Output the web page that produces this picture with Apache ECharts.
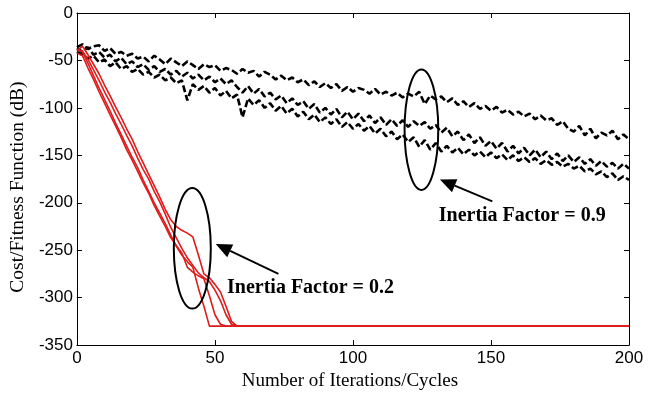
<!DOCTYPE html>
<html>
<head>
<meta charset="utf-8">
<script src="https://cdn.jsdelivr.net/npm/echarts@6/dist/echarts.min.js"></script>
<style>
  html, body { margin: 0; padding: 0; background: #fff; }
  #chart { width: 653px; height: 396px; }
</style>
</head>
<body>
<div id="chart"></div>
<script>
// Iteration index shared by the three slow (w = 0.9) runs
const iters = [
  0, 2, 4, 6, 8, 10, 12, 14, 16, 18, 20, 22, 24, 26, 28, 30, 32, 34, 36, 38,
  40, 42, 44, 46, 48, 50, 52, 54, 56, 58, 60, 62, 64, 66, 68, 70, 72, 74, 76, 78,
  80, 82, 84, 86, 88, 90, 92, 94, 96, 98, 100, 102, 104, 106, 108, 110, 112, 114, 116, 118,
  120, 122, 124, 126, 128, 130, 132, 134, 136, 138, 140, 142, 144, 146, 148, 150, 152, 154, 156, 158,
  160, 162, 164, 166, 168, 170, 172, 174, 176, 178, 180, 182, 184, 186, 188, 190, 192, 194, 196, 198,
  200
];

// Inertia factor 0.9 runs (cost in dB)
const slowRun1 = [
  -36, -33, -38, -35, -34, -40, -37, -43, -41, -45,
  -43, -48, -46, -51, -45, -49, -54, -48, -52, -56,
  -51, -55, -59, -54, -57, -55, -61, -58, -60, -64,
  -59, -63, -61, -67, -62, -65, -70, -66, -71, -68,
  -73, -70, -76, -72, -78, -74, -79, -75, -82, -78,
  -83, -79, -81, -85, -80, -86, -83, -87, -84, -89,
  -85, -88, -83, -96, -87, -91, -88, -94, -90, -97,
  -93, -99, -95, -101, -98, -103, -99, -105, -102, -107,
  -104, -109, -106, -112, -108, -113, -111, -118, -114, -122,
  -125, -119, -129, -122, -132, -126, -129, -124, -133, -128,
  -133
];
const slowRun2 = [
  -37, -41, -36, -44, -41, -47, -44, -51, -47, -54,
  -51, -57, -54, -60, -56, -62, -59, -65, -61, -67,
  -63, -69, -65, -71, -67, -73, -69, -75, -71, -78,
  -84, -77, -85, -80, -88, -84, -91, -87, -95, -90,
  -97, -93, -101, -96, -105, -100, -107, -101, -110, -104,
  -112, -106, -114, -108, -116, -110, -118, -112, -119, -113,
  -120, -114, -119, -115, -122, -118, -126, -121, -130, -125,
  -134, -128, -137, -131, -140, -135, -143, -137, -146, -140,
  -148, -142, -150, -144, -152, -146, -154, -148, -156, -150,
  -157, -152, -159, -154, -161, -156, -162, -158, -164, -159,
  -164
];
const slowRun3 = [
  -41, -44, -48, -45, -52, -49, -56, -52, -59, -56,
  -62, -59, -65, -62, -68, -65, -71, -68, -74, -71,
  -92, -75, -81, -77, -84, -79, -87, -82, -90, -86,
  -110, -90, -97, -92, -100, -95, -103, -98, -106, -101,
  -109, -104, -112, -107, -115, -110, -117, -112, -120, -115,
  -122, -117, -124, -119, -127, -122, -130, -125, -133, -128,
  -136, -131, -141, -134, -144, -137, -146, -140, -147, -142,
  -149, -144, -150, -146, -152, -147, -153, -149, -155, -150,
  -156, -152, -157, -153, -159, -155, -160, -157, -162, -159,
  -164, -161, -167, -164, -170, -167, -173, -169, -176, -172,
  -176
];

// Iteration index for the fast (w = 0.2) runs; flat after convergence
const fastIters = [
  0, 2, 4, 6, 8, 10, 12, 14, 16, 18, 20, 22, 24, 26, 28, 30, 32, 34, 36, 38,
  40, 42, 44, 46, 48, 50, 52, 54, 56, 58, 60, 62, 200
];
const fastRun1 = [
  -40, -35, -44, -54, -64, -76, -87, -99, -110, -122, -133, -146, -158, -170, -182, -194,
  -207, -218, -225, -229, -232, -236, -255, -275, -279, -286, -294, -309, -325, -330, -330, -330, -330
];
const fastRun2 = [
  -38, -41, -53, -66, -79, -91, -103, -116, -128, -140, -152, -163, -176, -188, -200, -211,
  -222, -234, -246, -255, -262, -268, -290, -309, -330, -330, -330, -330, -330, -330, -330, -330, -330
];
const fastRun3 = [
  -42, -45, -58, -70, -83, -95, -107, -119, -131, -144, -155, -167, -179, -190, -203, -214,
  -225, -237, -245, -253, -268, -273, -277, -280, -298, -318, -328, -330, -330, -330, -330, -330, -330
];
const fastRun4 = [
  -39, -40, -49, -60, -71, -83, -94, -106, -117, -129, -140, -153, -165, -175, -188, -199,
  -212, -226, -237, -248, -258, -266, -274, -279, -283, -292, -303, -318, -328, -330, -330, -330, -330
];

const slowRuns = [slowRun1, slowRun2, slowRun3];
const fastRuns = [fastRun1, fastRun2, fastRun3, fastRun4];

const xTitle = 'Number of Iterations/Cycles';
const yTitle = 'Cost/Fitness Function (dB)';
const labelSlow = 'Inertia Factor = 0.9';
const labelFast = 'Inertia Factor = 0.2';

function pairs(xs, ys) { return xs.map((x, i) => [x, ys[i]]); }

const chart = echarts.init(document.getElementById('chart'), null, { renderer: 'canvas' });

// Boxed axes with inward ticks on all four sides
const axisLineStyle = { onZero: false, lineStyle: { color: '#000', width: 1 } };
const tickStyle = { show: true, inside: true, length: 5, lineStyle: { color: '#000', width: 1 } };
const tickFont = { color: '#000', fontFamily: '"Liberation Sans", Arial, sans-serif', fontSize: 17 };
const serif = '"Liberation Serif", "Times New Roman", serif';

const series = [];
slowRuns.forEach((run) => {
  series.push({
    type: 'line', data: pairs(iters, run), symbol: 'none', z: 2,
    lineStyle: { color: '#000', width: 2.6, type: [7, 3] }
  });
});
fastRuns.forEach((run) => {
  series.push({
    type: 'line', data: pairs(fastIters, run), symbol: 'none', z: 3,
    lineStyle: { color: '#dd1c1c', width: 1.6 }
  });
});

chart.setOption({
  animation: false,
  backgroundColor: '#fff',
  grid: { left: 76, right: 24, top: 13, bottom: 47, containLabel: false },
  xAxis: [
    {
      type: 'value', min: 0, max: 200, interval: 50, position: 'bottom',
      axisLine: axisLineStyle, axisTick: tickStyle, splitLine: { show: false },
      axisLabel: Object.assign({ margin: 5 }, tickFont),
      name: xTitle, nameLocation: 'middle', nameGap: 24,
      nameTextStyle: { color: '#000', fontFamily: serif, fontSize: 19, padding: [0, 6, 0, 0] }
    },
    {
      type: 'value', min: 0, max: 200, interval: 50, position: 'top',
      axisLine: axisLineStyle, axisTick: tickStyle, splitLine: { show: false },
      axisLabel: { show: false }
    }
  ],
  yAxis: [
    {
      type: 'value', min: -350, max: 0, interval: 50, position: 'left',
      axisLine: axisLineStyle, axisTick: tickStyle, splitLine: { show: false },
      axisLabel: Object.assign({ margin: 4 }, tickFont),
      name: yTitle, nameLocation: 'middle', nameRotate: 90, nameGap: 43,
      nameTextStyle: { color: '#000', fontFamily: serif, fontSize: 19.5, padding: [0, 16, 0, 0] }
    },
    {
      type: 'value', min: -350, max: 0, interval: 50, position: 'right',
      axisLine: axisLineStyle, axisTick: tickStyle, splitLine: { show: false },
      axisLabel: { show: false }
    }
  ],
  series: series
});

// Annotation callouts, placed in data coordinates
const callouts = [
  { cx: 124.8, cy: -123, rx: 6.1, ry: 63.5, tip: [131.5, -175.5], tail: [150.5, -198.5], text: labelSlow, at: [161.3, -213.5] },
  { cx: 41.8, cy: -248, rx: 6.7, ry: 63.5, tip: [50.3, -243.5], tail: [73.0, -275], text: labelFast, at: [84.6, -289.6] }
];

function px(p) { return chart.convertToPixel({ xAxisIndex: 0, yAxisIndex: 0 }, p); }

const graphics = [];
callouts.forEach((c) => {
  const ctr = px([c.cx, c.cy]);
  const edge = px([c.cx + c.rx, c.cy + c.ry]);
  graphics.push({
    type: 'ellipse', z: 10,
    shape: { cx: ctr[0], cy: ctr[1], rx: Math.abs(edge[0] - ctr[0]), ry: Math.abs(edge[1] - ctr[1]) },
    style: { fill: null, stroke: '#000', lineWidth: 2 }
  });
  const tip = px(c.tip), tail = px(c.tail);
  const ang = Math.atan2(tip[1] - tail[1], tip[0] - tail[0]);
  const hl = 16, hw = 7;
  const bx = tip[0] - hl * Math.cos(ang), by = tip[1] - hl * Math.sin(ang);
  graphics.push({
    type: 'line', z: 10,
    shape: { x1: tail[0], y1: tail[1], x2: bx, y2: by },
    style: { stroke: '#000', lineWidth: 1.8 }
  });
  graphics.push({
    type: 'polygon', z: 10,
    shape: { points: [
      tip,
      [bx + hw * Math.sin(ang), by - hw * Math.cos(ang)],
      [bx - hw * Math.sin(ang), by + hw * Math.cos(ang)]
    ] },
    style: { fill: '#000' }
  });
  const at = px(c.at);
  graphics.push({
    type: 'text', z: 11, x: at[0], y: at[1],
    style: {
      text: c.text, fill: '#000', align: 'center', verticalAlign: 'middle',
      font: 'bold 20px ' + serif
    }
  });
});

chart.setOption({ graphic: graphics });
</script>
</body>
</html>
